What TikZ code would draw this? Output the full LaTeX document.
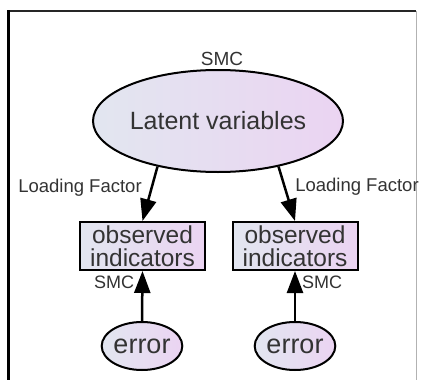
\documentclass[tikz,border=0pt]{standalone}
\usepackage{fontspec}
\setmainfont{Liberation Sans}
\usetikzlibrary{shapes.geometric,arrows.meta}
\definecolor{lblue}{HTML}{E2E6F0}
\definecolor{lpink}{HTML}{EBD4F2}
\definecolor{txt}{HTML}{333333}
\tikzset{
  fillgrad/.style={left color=lblue, right color=lpink, draw=black, line width=2pt},
  latent/.style={fillgrad, ellipse, minimum width=250pt, minimum height=102pt, inner sep=0pt, text=txt, font=\fontsize{25}{26}\selectfont},
  obsbox/.style={fillgrad, rectangle, minimum width=125pt, minimum height=48pt, inner sep=0pt, text=txt, align=center, font=\fontsize{24.5}{23}\selectfont},
  errnode/.style={fillgrad, ellipse, minimum width=60pt, minimum height=48pt, inner sep=0pt, text=txt, font=\fontsize{27}{28}\selectfont},
  lbl/.style={text=txt, inner sep=0pt},
  conn/.style={line width=2.5pt, -{Triangle[length=22pt,width=16pt]}},
}
\begin{document}
\begin{tikzpicture}[x=1pt,y=-1pt]
\useasboundingbox (0,0) rectangle (426,380);
\fill[white] (0,0) rectangle (426,380);
% frame
\draw[line width=2pt, black!85] (8,11) -- (416,11);
\draw[line width=1pt, black!30] (416,11) -- (416,380);
\draw[line width=3pt, black] (8,10) -- (8,380);
% nodes
\node[latent] (lv) at (218,121) {Latent variables};
\node[obsbox] (ob1) at (142.5,246) {observed\\indicators};
\node[obsbox] (ob2) at (295,246) {observed\\indicators};
\node[errnode] (er1) at (142,346) {error};
\node[errnode] (er2) at (295,346) {error};
% labels
\node[lbl, font=\fontsize{19}{20}\selectfont] (smctop) at (222,59) {SMC};
\node[lbl, font=\fontsize{18.5}{20}\selectfont] (lf1) at (80,188) {Loading Factor};
\node[lbl, font=\fontsize{18.5}{20}\selectfont] (lf2) at (357,187) {Loading Factor};
\node[lbl, font=\fontsize{18}{20}\selectfont] (smc1) at (114,282) {SMC};
\node[lbl, font=\fontsize{18}{20}\selectfont] (smc2) at (322,282) {SMC};
% connectors
\draw[conn] (lv.217) -- (ob1.north);
\draw[conn] (lv.323) -- (ob2.north);
\draw[conn] (er1.north) -- (ob1.south);
\draw[conn] (er2.north) -- (ob2.south);
\end{tikzpicture}
\end{document}
